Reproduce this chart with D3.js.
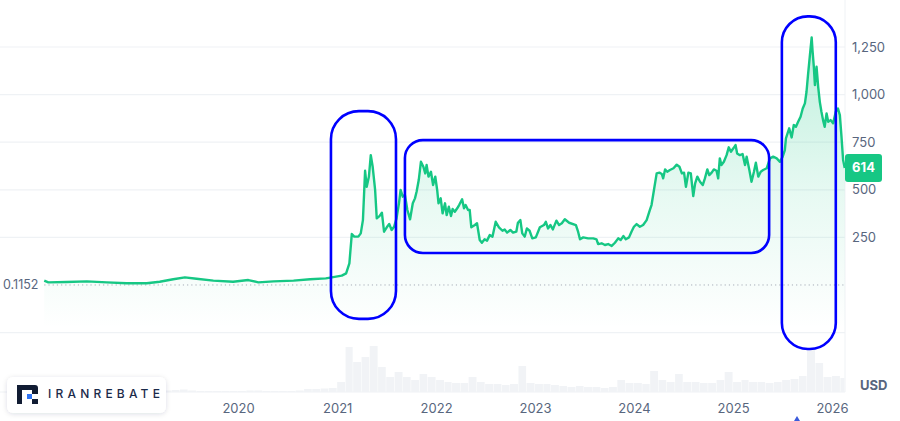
<!DOCTYPE html>
<html><head><meta charset="utf-8">
<script src="https://cdn.jsdelivr.net/npm/d3@7"></script>
<style>
body{margin:0;background:#fff;}
svg{display:block;font-family:Inter,"Noto Sans",sans-serif;}
</style>
</head><body><svg id="c" width="900" height="421"></svg>
<script>
// ---------------- DATA ----------------
const priceDates = [
"2018-01-16","2018-01-31","2018-04-09","2018-06-22","2018-09-04","2018-11-16","2019-01-29","2019-03-18","2019-05-07","2019-06-19",
"2019-08-01","2019-10-02","2019-12-14","2020-02-08","2020-03-16","2020-05-11","2020-07-24","2020-09-23","2020-11-20","2020-12-12",
"2021-01-18","2021-02-03","2021-02-15","2021-02-24","2021-03-05","2021-03-20","2021-03-29","2021-04-06","2021-04-14","2021-04-20",
"2021-04-28","2021-05-05","2021-05-12","2021-05-21","2021-05-27","2021-06-06","2021-06-15","2021-06-23","2021-07-03","2021-07-12",
"2021-07-21","2021-07-30","2021-08-08","2021-08-17","2021-08-23","2021-08-31","2021-09-08","2021-09-17","2021-09-27","2021-10-07",
"2021-10-15","2021-10-21","2021-10-29","2021-11-06","2021-11-15","2021-11-22","2021-11-27","2021-12-04","2021-12-13","2021-12-21",
"2021-12-29","2022-01-05","2022-01-10","2022-01-18","2022-01-25","2022-02-03","2022-02-09","2022-02-17","2022-02-25","2022-03-03",
"2022-03-11","2022-03-20","2022-03-27","2022-04-07","2022-04-14","2022-04-20","2022-04-29","2022-05-05","2022-05-11","2022-05-24",
"2022-06-01","2022-06-11","2022-06-19","2022-06-29","2022-07-08","2022-07-18","2022-07-28","2022-08-09","2022-08-21","2022-09-03",
"2022-09-11","2022-09-20","2022-10-02","2022-10-12","2022-10-24","2022-10-30","2022-11-08","2022-11-15","2022-11-24","2022-12-02",
"2022-12-12","2022-12-22","2023-01-04","2023-01-19","2023-02-03","2023-02-10","2023-02-18","2023-02-27","2023-03-08","2023-03-21",
"2023-03-31","2023-04-10","2023-04-21","2023-05-07","2023-06-01","2023-06-09","2023-06-16","2023-06-28","2023-07-16","2023-08-04",
"2023-08-16","2023-08-22","2023-09-04","2023-09-16","2023-09-28","2023-10-11","2023-10-23","2023-11-04","2023-11-13","2023-11-23",
"2023-12-02","2023-12-14","2023-12-23","2024-01-01","2024-01-11","2024-01-23","2024-02-04","2024-02-17","2024-02-29","2024-03-06",
"2024-03-15","2024-03-25","2024-04-04","2024-04-13","2024-04-18","2024-04-25","2024-05-03","2024-05-13","2024-05-26","2024-06-07",
"2024-06-17","2024-06-26","2024-07-04","2024-07-11","2024-07-20","2024-07-29","2024-08-07","2024-08-14","2024-08-22","2024-09-01",
"2024-09-11","2024-09-19","2024-09-28","2024-10-05","2024-10-14","2024-10-22","2024-11-01","2024-11-07","2024-11-13","2024-11-19",
"2024-11-28","2024-12-08","2024-12-16","2024-12-24","2025-01-02","2025-01-10","2025-01-16","2025-01-26","2025-02-05","2025-02-14",
"2025-02-20","2025-03-02","2025-03-10","2025-03-19","2025-03-26","2025-04-04","2025-04-13","2025-04-22","2025-05-05","2025-05-17",
"2025-05-29","2025-06-11","2025-06-23","2025-07-03","2025-07-11","2025-07-15","2025-07-27","2025-08-05","2025-08-13","2025-08-21",
"2025-08-29","2025-09-07","2025-09-15","2025-09-23","2025-09-29","2025-10-05","2025-10-11","2025-10-18","2025-10-21","2025-10-26",
"2025-10-30","2025-11-05","2025-11-11","2025-11-17","2025-11-23","2025-11-29","2025-12-05","2025-12-12","2025-12-18","2025-12-27",
"2026-01-05","2026-01-15","2026-01-23","2026-01-30","2026-02-05","2026-02-11","2026-02-17"
];
const priceValues = [
23,14,16,19,14,9,9,17,30,40,
33,23,17,26,14,19,23,30,35,40,
49,61,114,268,254,254,271,341,600,516,
568,682,621,499,350,362,380,280,303,320,
289,306,350,429,499,464,473,394,345,429,
455,490,551,647,621,586,630,569,595,525,
569,499,429,455,376,429,367,411,362,399,
385,403,420,450,403,420,394,394,303,315,
324,236,222,240,233,262,254,332,303,285,
292,275,289,275,280,327,341,271,254,297,
285,245,250,303,315,332,297,315,292,338,
315,324,345,327,315,280,240,250,245,245,
240,215,219,210,215,205,222,245,236,257,
240,250,280,306,320,306,315,341,394,420,
499,586,590,583,560,607,595,604,613,632,
621,586,590,516,590,586,467,534,569,542,
525,560,607,577,590,607,600,560,665,630,
647,682,723,700,718,735,691,682,688,630,
674,604,542,595,642,569,595,604,613,665,
674,665,647,674,709,770,823,775,840,831,
857,884,927,954,1015,1111,1199,1300,1234,1146,
1050,1146,1041,962,910,866,831,901,857,866,
849,910,927,892,779,656,614
];
// monthly trading volume (relative units), Jan 2018 .. Feb 2026
const volumeStart = "2018-01-01";
const volumeValues = [
0.2,0.15,0.1,0.1,0.1,0.1,0.1,0.1,0.1,0.1,0.1,0.1,
0.1,0.1,0.1,0.15,0.2,0.25,0.15,0.1,0.1,0.1,0.1,0.1,
0.1,0.15,0.15,0.1,0.1,0.1,0.1,0.15,0.3,0.3,0.35,0.4,
1.0,4.5,3.0,3.5,4.6,2.5,1.5,2.0,1.5,1.2,1.8,1.5,
1.2,1.0,0.9,0.9,1.5,1.0,0.8,0.8,0.7,0.8,2.6,0.9,
0.8,0.8,0.7,0.6,0.5,0.6,0.5,0.5,0.4,0.5,1.2,0.9,
0.9,0.8,2.1,1.2,1.0,1.8,1.0,1.0,0.9,0.9,1.2,2.0,
1.0,1.2,1.0,1.0,0.9,1.0,1.2,1.3,1.6,4.2,2.9,1.5,
1.6,1.4
];
const yTickValues = [250, 500, 750, 1000, 1250];
const yearTickDates = ["2018-01-01","2019-01-01","2020-01-01","2021-01-01","2022-01-01","2023-01-01","2024-01-01","2025-01-01","2026-01-01"];
const baseValue = 0.1152;
const baseLabel = "0.1152";
const currencyLabel = "USD";
const brandName = "IRANREBATE";
// highlighted ranges: start date, end date, top value, bottom value
const highlightStart = ["2020-12-09","2021-09-08","2025-06-30"];
const highlightEnd   = ["2021-08-06","2025-05-14","2026-01-15"];
const highlightHigh  = [913, 761, 1411];
const highlightLow   = [-178, 168, -336];

// ---------------- DRAW ----------------
const parse = d3.timeParse("%Y-%m-%d");
const svg = d3.select("#c");
const W = 900, H = 421, plotRight = 845;
const x = d3.scaleTime().domain([parse("2020-01-01"), parse("2026-01-01")]).range([238, 832]);
const y = d3.scaleLinear().domain([0, 1250]).range([285, 47]);
const yVol = d3.scaleLinear().domain([0, 5]).range([392, 342]);
const green = "#16c784", textGray = "#58667e", gridColor = "#eff2f5";

const series = priceDates.map((d, i) => ({date: parse(d), value: priceValues[i]}));

svg.append("rect").attr("width", W).attr("height", H).attr("fill", "#fff");

const defs = svg.append("defs");
const grad = defs.append("linearGradient").attr("id", "fillGrad")
  .attr("gradientUnits", "userSpaceOnUse").attr("x1", 0).attr("x2", 0)
  .attr("y1", y(1300)).attr("y2", y(-230));
grad.append("stop").attr("offset", "0").attr("stop-color", green).attr("stop-opacity", 0.28);
grad.append("stop").attr("offset", "0.55").attr("stop-color", green).attr("stop-opacity", 0.1);
grad.append("stop").attr("offset", "1").attr("stop-color", green).attr("stop-opacity", 0);
const sh = defs.append("filter").attr("id", "shadow").attr("x", "-20%").attr("y", "-40%").attr("width", "140%").attr("height", "180%");
sh.append("feDropShadow").attr("dx", 0).attr("dy", 1).attr("stdDeviation", 2.5).attr("flood-color", "#1b2a4a").attr("flood-opacity", 0.14);

// grid
const gridVals = [-250].concat(yTickValues);
svg.append("g").selectAll("line").data(gridVals).join("line")
  .attr("x1", 0).attr("x2", plotRight).attr("y1", d => y(d)).attr("y2", d => y(d))
  .attr("stroke", gridColor).attr("stroke-width", 1.2);
svg.append("line").attr("x1", 0).attr("x2", plotRight).attr("y1", yVol(0)).attr("y2", yVol(0))
  .attr("stroke", gridColor).attr("stroke-width", 1);
svg.append("line").attr("x1", plotRight).attr("x2", plotRight).attr("y1", 0).attr("y2", yVol(0))
  .attr("stroke", gridColor).attr("stroke-width", 1);

// volume
const v0 = parse(volumeStart);
const vol = volumeValues.map((v, i) => ({start: d3.timeMonth.offset(v0, i), end: d3.timeMonth.offset(v0, i + 1), v}));
svg.append("g").selectAll("rect").data(vol).join("rect")
  .attr("x", d => x(d.start)).attr("width", d => Math.max(0, Math.min(plotRight, x(d.end)) - x(d.start) - 0.5))
  .attr("y", d => yVol(d.v)).attr("height", d => yVol(0) - yVol(d.v))
  .attr("fill", "#f1f3f6");

// area
const area = d3.area().x(d => x(d.date)).y0(y(-250)).y1(d => y(d.value)).curve(d3.curveLinear);
svg.append("path").datum(series).attr("d", area).attr("fill", "url(#fillGrad)");

// baseline dotted
svg.append("line").attr("x1", x(series[0].date)).attr("x2", plotRight)
  .attr("y1", y(baseValue)).attr("y2", y(baseValue))
  .attr("stroke", "#a7adb8").attr("stroke-width", 1).attr("stroke-dasharray", "1.2,3");
svg.append("text").attr("x", 3).attr("y", y(baseValue) + 1).attr("dominant-baseline", "middle")
  .attr("font-size", 12.5).attr("fill", textGray).text(baseLabel);

// price line
const line = d3.line().x(d => x(d.date)).y(d => y(d.value));
svg.append("path").datum(series).attr("d", line).attr("fill", "none")
  .attr("stroke", green).attr("stroke-width", 2.4).attr("stroke-linejoin", "round");

// highlight frames
const radii = [28, 18, 26];
highlightStart.forEach((s, i) => {
  const x0 = x(parse(s)), x1 = x(parse(highlightEnd[i]));
  const y0 = y(highlightHigh[i]), y1 = y(highlightLow[i]);
  svg.append("rect").attr("x", x0).attr("y", y0).attr("width", x1 - x0).attr("height", y1 - y0)
    .attr("rx", radii[i]).attr("ry", radii[i]).attr("fill", "none")
    .attr("stroke", "#0000ff").attr("stroke-width", 2.6);
});

// right axis
const yAxis = d3.axisRight(y).tickValues(yTickValues).tickFormat(d3.format(",")).tickSize(0).tickPadding(7);
const ga = svg.append("g").attr("transform", `translate(${plotRight},0)`).call(yAxis);
ga.select(".domain").remove();
ga.selectAll("text").attr("font-size", 13).attr("fill", textGray).attr("font-family", "Inter");

// current price tag
const last = series[series.length - 1];
svg.append("rect").attr("x", plotRight).attr("y", y(last.value) - 14).attr("width", 37).attr("height", 28)
  .attr("rx", 3).attr("fill", green);
svg.append("text").attr("x", plotRight + 18.5).attr("y", y(last.value) + 0.5).attr("text-anchor", "middle")
  .attr("dominant-baseline", "middle").attr("font-size", 13).attr("font-weight", 700).attr("fill", "#fff")
  .text(d3.format("d")(last.value));

// bottom axis
const xAxis = d3.axisBottom(x).tickValues(yearTickDates.map(parse)).tickFormat(d3.timeFormat("%Y")).tickSize(0).tickPadding(0);
const gx = svg.append("g").attr("transform", "translate(0,404)").call(xAxis);
gx.select(".domain").remove();
gx.selectAll("text").attr("font-size", 13).attr("fill", textGray).attr("font-family", "Inter");

// currency
svg.append("text").attr("x", 860).attr("y", 386).attr("dominant-baseline", "middle")
  .attr("font-size", 13).attr("font-weight", 700).attr("fill", textGray).text(currencyLabel);

// small marker at bottom
svg.append("path").attr("d", "M797,416 L800,421 L794,421 Z").attr("fill", "#3b5bdb");

// brand box
const b = svg.append("g");
b.append("rect").attr("x", 7).attr("y", 377).attr("width", 159).attr("height", 36).attr("rx", 6)
  .attr("fill", "#fff").attr("filter", "url(#shadow)");
const ic = b.append("g").attr("transform", "translate(17,385)");
ic.append("path").attr("d", "M0,0 H18 Q21,0 21,3 V9 H15 V5 H5 V19 H0 Z").attr("fill", "#111c33");
ic.append("rect").attr("x", 10).attr("y", 9).attr("width", 5).attr("height", 5).attr("fill", "#2f74f5");
ic.append("rect").attr("x", 15).attr("y", 14).attr("width", 6).attr("height", 5).attr("fill", "#111c33");
b.append("text").attr("x", 48).attr("y", 395).attr("dominant-baseline", "middle")
  .attr("font-size", 12).attr("font-weight", 500).attr("letter-spacing", 4.2).attr("fill", "#1b2a4a")
  .text(brandName);
</script>
</body></html>
